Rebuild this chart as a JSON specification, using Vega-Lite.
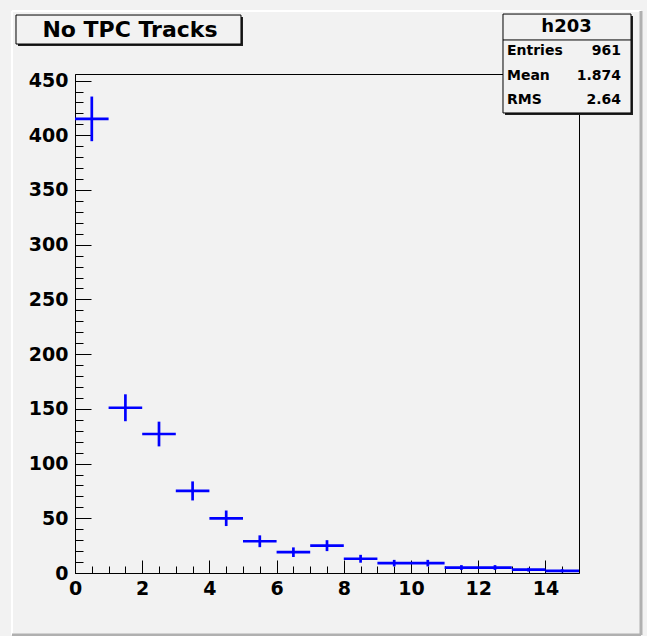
{
  "$schema": "https://vega.github.io/schema/vega-lite/v6.json",
  "width": 504,
  "height": 499,
  "autosize": "none",
  "padding": {"left": 75, "top": 74, "right": 68, "bottom": 63},
  "background": "#f2f2f2",
  "config": {
    "view": {"stroke": "black", "strokeWidth": 1},
    "axis": {
      "grid": false,
      "title": null,
      "domainColor": "black",
      "domainWidth": 1,
      "tickColor": "black",
      "tickWidth": 1,
      "labelColor": "black",
      "labelFont": "DejaVu Sans",
      "labelFontWeight": "bold",
      "labelFontSize": 19,
      "labelFlush": false,
      "labelOverlap": false
    },
    "text": {"font": "DejaVu Sans", "fontWeight": "bold", "color": "black"}
  },
  "datasets": {
    "bins": [
      {"lo": 0, "hi": 1, "center": 0.5, "n": 415, "low": 394.6, "high": 435.4},
      {"lo": 1, "hi": 2, "center": 1.5, "n": 151, "low": 138.7, "high": 163.3},
      {"lo": 2, "hi": 3, "center": 2.5, "n": 127, "low": 115.7, "high": 138.3},
      {"lo": 3, "hi": 4, "center": 3.5, "n": 75, "low": 66.3, "high": 83.7},
      {"lo": 4, "hi": 5, "center": 4.5, "n": 50, "low": 42.9, "high": 57.1},
      {"lo": 5, "hi": 6, "center": 5.5, "n": 29, "low": 23.6, "high": 34.4},
      {"lo": 6, "hi": 7, "center": 6.5, "n": 19, "low": 14.6, "high": 23.4},
      {"lo": 7, "hi": 8, "center": 7.5, "n": 25, "low": 20.0, "high": 30.0},
      {"lo": 8, "hi": 9, "center": 8.5, "n": 13, "low": 9.4, "high": 16.6},
      {"lo": 9, "hi": 10, "center": 9.5, "n": 9, "low": 6.0, "high": 12.0},
      {"lo": 10, "hi": 11, "center": 10.5, "n": 9, "low": 6.0, "high": 12.0},
      {"lo": 11, "hi": 12, "center": 11.5, "n": 5, "low": 2.8, "high": 7.2},
      {"lo": 12, "hi": 13, "center": 12.5, "n": 5, "low": 2.8, "high": 7.2},
      {"lo": 13, "hi": 14, "center": 13.5, "n": 3, "low": 1.3, "high": 4.7},
      {"lo": 14, "hi": 15, "center": 14.5, "n": 2, "low": 0.6, "high": 3.4}
    ],
    "stats": [{"name": "h203", "entries": "961", "mean": "1.874", "rms": "2.64"}],
    "caption": [{"title": "No TPC Tracks"}]
  },
  "data": {"name": "bins"},
  "resolve": {"axis": {"x": "independent", "y": "independent"}},
  "layer": [
    {
      "mark": {"type": "rule", "color": "#0000ff", "strokeWidth": 2.7},
      "encoding": {
        "x": {
          "field": "center", "type": "quantitative",
          "scale": {"domain": [0, 15], "nice": false, "zero": false},
          "axis": {"orient": "bottom", "values": [0, 2, 4, 6, 8, 10, 12, 14], "tickSize": -13, "labelPadding": 19}
        },
        "y": {
          "field": "low", "type": "quantitative",
          "scale": {"domain": [0, 456], "nice": false, "zero": false},
          "axis": {"orient": "left", "values": [0, 50, 100, 150, 200, 250, 300, 350, 400, 450], "tickSize": -16, "labelPadding": 23}
        },
        "y2": {"field": "high"}
      }
    },
    {
      "mark": {"type": "rule", "color": "#0000ff", "strokeWidth": 2.7},
      "encoding": {
        "x": {
          "field": "lo", "type": "quantitative",
          "axis": {"orient": "bottom", "values": [0.5, 1, 1.5, 2.5, 3, 3.5, 4.5, 5, 5.5, 6.5, 7, 7.5, 8.5, 9, 9.5, 10.5, 11, 11.5, 12.5, 13, 13.5, 14.5], "tickSize": -7, "labels": false, "domain": false}
        },
        "x2": {"field": "hi"},
        "y": {
          "field": "n", "type": "quantitative",
          "axis": {"orient": "left", "values": [10, 20, 30, 40, 60, 70, 80, 90, 110, 120, 130, 140, 160, 170, 180, 190, 210, 220, 230, 240, 260, 270, 280, 290, 310, 320, 330, 340, 360, 370, 380, 390, 410, 420, 430, 440], "tickSize": -8, "labels": false, "domain": false}
        }
      }
    },
    {
      "data": {"name": "caption"},
      "mark": {"type": "rect", "fill": "#202020", "clip": false},
      "encoding": {
        "x": {"datum": -1.696, "type": "quantitative", "axis": null},
        "x2": {"datum": 5.0},
        "y": {"datum": 481.6, "type": "quantitative", "axis": null},
        "y2": {"datum": 508.1}
      }
    },
    {
      "data": {"name": "caption"},
      "mark": {"type": "rect", "fill": "#f2f2f2", "stroke": "black", "strokeWidth": 1, "clip": false},
      "encoding": {
        "x": {"datum": -1.756, "type": "quantitative", "axis": null},
        "x2": {"datum": 4.94},
        "y": {"datum": 483.4, "type": "quantitative", "axis": null},
        "y2": {"datum": 509.9}
      }
    },
    {
      "data": {"name": "caption"},
      "mark": {"type": "text", "fontSize": 22, "align": "center", "baseline": "middle", "clip": false},
      "encoding": {
        "x": {"datum": 1.637, "type": "quantitative", "axis": null},
        "y": {"datum": 496.2, "type": "quantitative", "axis": null},
        "text": {"field": "title"}
      }
    },
    {
      "data": {"name": "stats"},
      "mark": {"type": "rect", "fill": "#202020", "clip": false},
      "encoding": {
        "x": {"datum": 12.798, "type": "quantitative", "axis": null},
        "x2": {"datum": 16.607},
        "y": {"datum": 418.5, "type": "quantitative", "axis": null},
        "y2": {"datum": 509.0}
      }
    },
    {
      "data": {"name": "stats"},
      "mark": {"type": "rect", "fill": "#f2f2f2", "stroke": "black", "strokeWidth": 1, "clip": false},
      "encoding": {
        "x": {"datum": 12.738, "type": "quantitative", "axis": null},
        "x2": {"datum": 16.548},
        "y": {"datum": 420.4, "type": "quantitative", "axis": null},
        "y2": {"datum": 510.8}
      }
    },
    {
      "data": {"name": "stats"},
      "mark": {"type": "rule", "color": "black", "strokeWidth": 1, "clip": false},
      "encoding": {
        "x": {"datum": 12.738, "type": "quantitative", "axis": null},
        "x2": {"datum": 16.548},
        "y": {"datum": 487.1, "type": "quantitative", "axis": null}
      }
    },
    {
      "data": {"name": "stats"},
      "mark": {"type": "text", "fontSize": 18, "align": "center", "baseline": "middle", "clip": false},
      "encoding": {
        "x": {"datum": 14.628, "type": "quantitative", "axis": null},
        "y": {"datum": 498.9, "type": "quantitative", "axis": null},
        "text": {"field": "name"}
      }
    },
    {
      "data": {"name": "stats"},
      "mark": {"type": "text", "fontSize": 14, "align": "left", "baseline": "middle", "clip": false},
      "encoding": {
        "x": {"datum": 12.857, "type": "quantitative", "axis": null},
        "y": {"datum": 477.0, "type": "quantitative", "axis": null},
        "text": {"value": "Entries"}
      }
    },
    {
      "data": {"name": "stats"},
      "mark": {"type": "text", "fontSize": 14, "align": "right", "baseline": "middle", "clip": false},
      "encoding": {
        "x": {"datum": 16.25, "type": "quantitative", "axis": null},
        "y": {"datum": 477.0, "type": "quantitative", "axis": null},
        "text": {"field": "entries"}
      }
    },
    {
      "data": {"name": "stats"},
      "mark": {"type": "text", "fontSize": 14, "align": "left", "baseline": "middle", "clip": false},
      "encoding": {
        "x": {"datum": 12.857, "type": "quantitative", "axis": null},
        "y": {"datum": 454.2, "type": "quantitative", "axis": null},
        "text": {"value": "Mean"}
      }
    },
    {
      "data": {"name": "stats"},
      "mark": {"type": "text", "fontSize": 14, "align": "right", "baseline": "middle", "clip": false},
      "encoding": {
        "x": {"datum": 16.25, "type": "quantitative", "axis": null},
        "y": {"datum": 454.2, "type": "quantitative", "axis": null},
        "text": {"field": "mean"}
      }
    },
    {
      "data": {"name": "stats"},
      "mark": {"type": "text", "fontSize": 14, "align": "left", "baseline": "middle", "clip": false},
      "encoding": {
        "x": {"datum": 12.857, "type": "quantitative", "axis": null},
        "y": {"datum": 432.2, "type": "quantitative", "axis": null},
        "text": {"value": "RMS"}
      }
    },
    {
      "data": {"name": "stats"},
      "mark": {"type": "text", "fontSize": 14, "align": "right", "baseline": "middle", "clip": false},
      "encoding": {
        "x": {"datum": 16.25, "type": "quantitative", "axis": null},
        "y": {"datum": 432.2, "type": "quantitative", "axis": null},
        "text": {"field": "rms"}
      }
    },
    {
      "data": {"name": "stats"},
      "mark": {"type": "rule", "color": "#ffffff", "strokeWidth": 2, "clip": false},
      "encoding": {
        "x": {"datum": -1.875, "type": "quantitative", "axis": null},
        "y": {"datum": -56.7, "type": "quantitative", "axis": null},
        "y2": {"datum": 513.6}
      }
    },
    {
      "data": {"name": "stats"},
      "mark": {"type": "rule", "color": "#ffffff", "strokeWidth": 2, "clip": false},
      "encoding": {
        "x": {"datum": -1.875, "type": "quantitative", "axis": null},
        "x2": {"datum": 16.845},
        "y": {"datum": 513.6, "type": "quantitative", "axis": null}
      }
    },
    {
      "data": {"name": "stats"},
      "mark": {"type": "rule", "color": "#b0b0b0", "strokeWidth": 3, "clip": false},
      "encoding": {
        "x": {"datum": 16.845, "type": "quantitative", "axis": null},
        "y": {"datum": -56.7, "type": "quantitative", "axis": null},
        "y2": {"datum": 513.6}
      }
    },
    {
      "data": {"name": "stats"},
      "mark": {"type": "rule", "color": "#b0b0b0", "strokeWidth": 3, "clip": false},
      "encoding": {
        "x": {"datum": -1.875, "type": "quantitative", "axis": null},
        "x2": {"datum": 16.845},
        "y": {"datum": -56.7, "type": "quantitative", "axis": null}
      }
    }
  ]
}
